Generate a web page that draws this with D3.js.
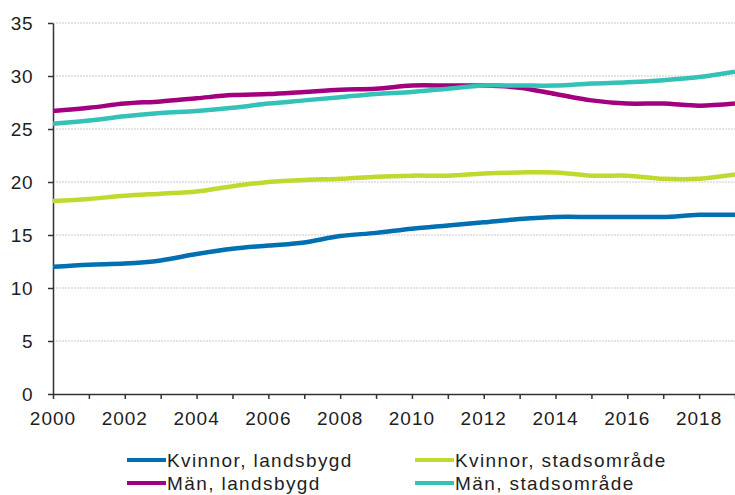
<!DOCTYPE html>
<html>
<head>
<meta charset="utf-8">
<script src="https://cdn.jsdelivr.net/npm/d3@7"></script>
<style>
  body { margin: 0; background: #fff; }
  svg { display: block; font-family: "Liberation Sans", Arial, sans-serif; }
</style>
</head>
<body>
<div id="chart"></div>
<script>
// data
const years = d3.range(2000, 2020);
const kvinnorLandsbygd = [12.0, 12.2, 12.3, 12.6, 13.2, 13.7, 14.0, 14.3, 14.9, 15.2, 15.6, 15.9, 16.2, 16.5, 16.7, 16.7, 16.7, 16.7, 16.9, 16.9];
const kvinnorStad = [18.2, 18.4, 18.7, 18.9, 19.1, 19.6, 20.0, 20.2, 20.3, 20.5, 20.6, 20.6, 20.8, 20.9, 20.9, 20.6, 20.6, 20.3, 20.3, 20.7];
const manLandsbygd = [26.7, 27.0, 27.4, 27.6, 27.9, 28.2, 28.3, 28.5, 28.7, 28.8, 29.1, 29.1, 29.1, 28.9, 28.3, 27.7, 27.4, 27.4, 27.2, 27.4];
const manStad = [25.5, 25.8, 26.2, 26.5, 26.7, 27.0, 27.4, 27.7, 28.0, 28.3, 28.5, 28.8, 29.1, 29.1, 29.1, 29.3, 29.4, 29.6, 29.9, 30.4];
const yTicks = [0, 5, 10, 15, 20, 25, 30, 35];
const xTickLabels = d3.range(2000, 2019, 2);

const series = [
  { name: "Kvinnor, landsbygd", values: kvinnorLandsbygd, color: "#0070b2" },
  { name: "Kvinnor, stadsområde", values: kvinnorStad, color: "#c1d82f" },
  { name: "Män, landsbygd", values: manLandsbygd, color: "#a3007f" },
  { name: "Män, stadsområde", values: manStad, color: "#34c1b8" }
];

const W = 735, H = 495;
const margin = { top: 23, right: 0, bottom: 101, left: 53 };

const svg = d3.select("#chart").append("svg")
  .attr("width", W)
  .attr("height", H);

const x = d3.scaleLinear().domain([2000, 2019]).range([margin.left, W - margin.right]);
const y = d3.scaleLinear().domain([0, 35]).range([H - margin.bottom, margin.top]);

// grid
svg.append("g")
  .selectAll("line")
  .data(yTicks.filter(d => d > 0))
  .enter()
  .append("line")
    .attr("x1", margin.left)
    .attr("x2", W)
    .attr("y1", d => y(d))
    .attr("y2", d => y(d))
    .attr("stroke", "#c9c9c9")
    .attr("stroke-width", 1)
    .attr("stroke-dasharray", "2,1");

// y axis
const yAxis = svg.append("g")
  .attr("transform", "translate(" + margin.left + ",0)")
  .call(d3.axisLeft(y).tickValues(yTicks).tickSize(5).tickSizeOuter(0).tickPadding(15));
yAxis.select(".domain").attr("stroke", "#333").attr("stroke-width", 1.5);
yAxis.selectAll(".tick line").attr("stroke", "#333").attr("stroke-width", 1.5);
yAxis.selectAll("text")
  .attr("fill", "#1e1e1e")
  .style("font-size", "19px")
  .style("letter-spacing", "0.5px");

// x axis
const xAxis = svg.append("g")
  .attr("transform", "translate(0," + y(0) + ")")
  .call(d3.axisBottom(x).tickValues(years).tickSize(5).tickSizeOuter(0).tickFormat(""));
xAxis.select(".domain").attr("stroke", "#333").attr("stroke-width", 1.5);
xAxis.selectAll(".tick line").attr("stroke", "#333").attr("stroke-width", 1.5);

svg.append("g")
  .selectAll("text")
  .data(xTickLabels)
  .enter()
  .append("text")
    .attr("x", d => x(d))
    .attr("y", y(0) + 31)
    .attr("text-anchor", "middle")
    .attr("fill", "#1e1e1e")
    .style("font-size", "19px")
    .style("letter-spacing", "1px")
    .text(d => d);

// lines
const line = d3.line()
  .x((d, i) => x(years[i]))
  .y(d => y(d))
  .curve(d3.curveCatmullRom.alpha(0.5));

svg.append("g")
  .selectAll("path")
  .data(series)
  .enter()
  .append("path")
    .attr("d", d => line(d.values))
    .attr("fill", "none")
    .attr("stroke", d => d.color)
    .attr("stroke-width", 4.5)
    .attr("stroke-linejoin", "round");

// legend (second row nudged up so it is not cut by the edge)
const legendPos = [
  { lx: 127, ly: 460 },
  { lx: 415, ly: 460 },
  { lx: 127, ly: 483 },
  { lx: 415, ly: 483 }
];
const legend = svg.append("g")
  .selectAll("g")
  .data(series)
  .enter()
  .append("g")
    .attr("transform", (d, i) => "translate(" + legendPos[i].lx + "," + legendPos[i].ly + ")");
legend.append("line")
  .attr("x1", 0)
  .attr("x2", 39)
  .attr("stroke", d => d.color)
  .attr("stroke-width", 4);
legend.append("text")
  .attr("x", 40)
  .attr("dy", "0.35em")
  .attr("fill", "#1e1e1e")
  .style("font-size", "19px")
  .style("letter-spacing", "1.4px")
  .text(d => d.name);
</script>
</body>
</html>
